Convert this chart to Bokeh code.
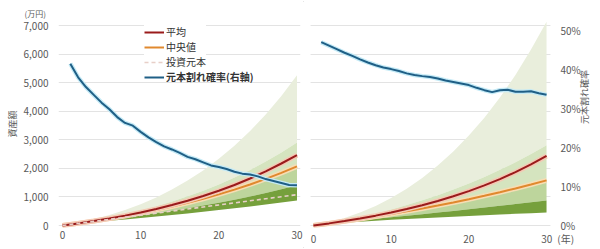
import math

from bokeh.plotting import figure
from bokeh.layouts import row
from bokeh.models import (Range1d, LinearAxis, FixedTicker, NumeralTickFormatter,
                          PrintfTickFormatter, Grid, Legend, LegendItem)
from bokeh.embed import file_html
from bokeh.resources import INLINE

# ---------------- data ----------------
# asset simulation (万円), every two years
years = [0, 2, 4, 6, 8, 10, 12, 14, 16, 18, 20, 22, 24, 26, 28, 30]

left_p5 = [0, 59, 112, 163, 214, 265, 317, 370, 424, 481, 540, 601, 665, 732, 802, 876]
left_p25 = [0, 67, 133, 202, 274, 349, 428, 512, 601, 696, 796, 904, 1018, 1140, 1271, 1411]
left_median = [0, 74, 153, 240, 334, 435, 546, 665, 795, 936, 1089, 1255, 1435, 1630, 1841, 2070]
left_p75 = [0, 80, 174, 279, 398, 530, 677, 839, 1020, 1219, 1438, 1679, 1945, 2237, 2557, 2909]
left_p95 = [0, 94, 215, 364, 540, 746, 984, 1258, 1572, 1929, 2333, 2789, 3304, 3883, 4535, 5261]
left_mean = [0, 74, 156, 246, 346, 457, 580, 715, 866, 1032, 1216, 1419, 1645, 1894, 2170, 2460]
left_principal = [0, 72, 144, 216, 288, 360, 432, 504, 576, 648, 720, 792, 864, 936, 1008, 1080]

right_p5 = [0, 53, 95, 132, 166, 197, 226, 255, 282, 308, 334, 359, 383, 408, 432, 456]
right_p25 = [0, 63, 121, 177, 232, 287, 343, 398, 454, 511, 569, 628, 689, 750, 813, 878]
right_median = [0, 73, 150, 230, 315, 403, 497, 595, 698, 806, 920, 1039, 1165, 1296, 1435, 1580]
right_p75 = [0, 85, 184, 298, 423, 562, 715, 881, 1062, 1258, 1471, 1700, 1948, 2214, 2501, 2809]
right_p95 = [0, 108, 259, 451, 685, 962, 1288, 1664, 2096, 2588, 3147, 3774, 4480, 5268, 6156, 7127]
right_mean = [0, 74, 155, 245, 345, 455, 576, 711, 859, 1022, 1203, 1403, 1623, 1867, 2136, 2433]

# probability of ending below principal (%), yearly
prob_years = list(range(1, 31))
left_loss_prob = [41.5, 38.0, 35.5, 33.5, 31.5, 29.8, 27.8, 26.3, 25.6, 24.0,
                  22.6, 21.4, 20.3, 19.5, 18.6, 17.6, 17.0, 16.2, 15.4, 15.0,
                  14.5, 13.8, 13.3, 13.1, 12.6, 11.9, 11.4, 10.9, 10.4, 10.3]
right_loss_prob = [47.0, 46.1, 45.2, 44.3, 43.5, 42.6, 41.8, 41.1, 40.5, 40.1,
                   39.6, 39.0, 38.6, 38.3, 38.1, 37.7, 37.2, 36.8, 36.4, 36.0,
                   35.3, 34.7, 34.2, 34.7, 34.8, 34.3, 34.3, 34.4, 33.9, 33.5]

x_ticks = [0, 10, 20, 30]
asset_ticks = [0, 1000, 2000, 3000, 4000, 5000, 6000, 7000]
prob_ticks = [0, 10, 20, 30, 40, 50]

# ---------------- style ----------------
FONT = "Noto Sans CJK JP"
TXT = "#595959"
C_OUTER = "#e9eedc"
C_UPPER = "#d5e4bf"
C_LOWER = "#bdd59c"
C_DARK = "#76a03c"
C_MEAN = "#9a1b1b"
C_MEAN_HALO = "#f4c9b4"
C_MED = "#e0892e"
C_MED_HALO = "#f7ddb4"
C_PRIN = "#e8cfc8"
C_PROB = "#1f5f86"
C_PROB_HALO = "#c4eaf6"
GRID = "#e3e3e3"

Y_RANGE = (-70, 7175)
PCT_RANGE = (-0.51, 52.56)


def style_axis(ax):
    ax.axis_line_color = None
    ax.major_tick_line_color = None
    ax.minor_tick_line_color = None
    ax.major_tick_out = 0
    ax.major_tick_in = 0
    ax.minor_tick_out = 0
    ax.minor_tick_in = 0
    ax.major_label_text_font = FONT
    ax.major_label_text_font_size = "10px"
    ax.major_label_text_color = TXT
    ax.axis_label_text_font = FONT
    ax.axis_label_text_font_size = "9px"
    ax.axis_label_text_font_style = "normal"
    ax.axis_label_text_color = TXT


def base_figure(width, x_range, border_left, border_right, y_axis_location):
    p = figure(width=width, height=249, x_range=Range1d(*x_range),
               y_range=Range1d(*Y_RANGE), output_backend="svg",
               toolbar_location=None, y_axis_location=y_axis_location,
               min_border_left=border_left, min_border_right=border_right,
               min_border_top=20, min_border_bottom=22)
    p.outline_line_color = None
    p.background_fill_color = "white"
    p.border_fill_color = "white"
    p.extra_y_ranges = {"pct": Range1d(*PCT_RANGE)}
    p.xaxis.ticker = FixedTicker(ticks=x_ticks)
    p.xaxis.major_label_standoff = 3
    style_axis(p.xaxis[0])
    p.xgrid.visible = False
    return p


def draw_fan(p, p5, p25, med, p75, p95, mean):
    p.varea(x=years, y1=p75, y2=p95, fill_color=C_OUTER)
    p.varea(x=years, y1=med, y2=p75, fill_color=C_UPPER)
    p.varea(x=years, y1=p25, y2=med, fill_color=C_LOWER)
    p.varea(x=years, y1=p5, y2=p25, fill_color=C_DARK)
    p.line(years, med, line_color=C_MED_HALO, line_width=5)
    r_med = p.line(years, med, line_color=C_MED, line_width=2)
    p.line(years, mean, line_color=C_MEAN_HALO, line_width=5)
    r_mean = p.line(years, mean, line_color=C_MEAN, line_width=2)
    return r_mean, r_med


def draw_prob(p, values):
    p.line(prob_years, values, line_color=C_PROB_HALO, line_width=4.5, y_range_name="pct")
    return p.line(prob_years, values, line_color=C_PROB, line_width=2, y_range_name="pct")


# ---------------- left panel ----------------
left = base_figure(303, (-0.51, 30.45), 58, 3, "left")
left.yaxis.ticker = FixedTicker(ticks=asset_ticks)
left.yaxis.formatter = NumeralTickFormatter(format="0,0")
left.yaxis.major_label_standoff = 10
left.yaxis.axis_label = "資産額"
left.yaxis.axis_label_standoff = 2
style_axis(left.yaxis[0])
left.ygrid.grid_line_color = GRID

left.title.text = "(万円)"
left.title.align = "left"
left.title.offset = -34
left.title.standoff = 3
left.title.text_font = FONT
left.title.text_font_size = "8px"
left.title.text_font_style = "normal"
left.title.text_color = TXT

r_mean, r_med = draw_fan(left, left_p5, left_p25, left_median, left_p75, left_p95, left_mean)
r_prin = left.line(years, left_principal, line_color=C_PRIN, line_width=1.6, line_dash="4 3")
r_prob = draw_prob(left, left_loss_prob)

legend_common = dict(margin=0, padding=0, spacing=0, glyph_width=20, glyph_height=14,
                     label_height=14, label_standoff=2, label_text_font=FONT,
                     label_text_font_size="10px", label_text_color="#333333",
                     border_line_color=None)
legend_b = Legend(items=[LegendItem(label="元本割れ確率(右軸)", renderers=[r_prob])],
                  location=(86, 143), label_text_font_style="bold",
                  background_fill_alpha=0.0, **legend_common)
legend_a = Legend(items=[LegendItem(label="平均", renderers=[r_mean]),
                         LegendItem(label="中央値", renderers=[r_med]),
                         LegendItem(label="投資元本", renderers=[r_prin])],
                  location=(86, 158), background_fill_color="white",
                  background_fill_alpha=1.0, **legend_common)
left.add_layout(legend_b)
left.add_layout(legend_a)

# ---------------- right panel ----------------
right = base_figure(297, (-0.38, 30.51), 7, 48, None)
right.add_layout(Grid(dimension=1, ticker=FixedTicker(ticks=asset_ticks),
                      grid_line_color=GRID))
# year unit written after the last tick
right.xaxis.major_label_overrides = {30: "\u2007\u2007\u2007\u200730\u2002(年)"}
pct_axis = LinearAxis(y_range_name="pct", ticker=FixedTicker(ticks=prob_ticks),
                      formatter=PrintfTickFormatter(format="%d%%"),
                      axis_label="元本割れ確率", major_label_standoff=10,
                      axis_label_standoff=1)
style_axis(pct_axis)
if "axis_label_orientation" in pct_axis.properties():
    pct_axis.axis_label_orientation = math.pi / 2
right.add_layout(pct_axis, "right")

draw_fan(right, right_p5, right_p25, right_median, right_p75, right_p95, right_mean)
draw_prob(right, right_loss_prob)

# thin frame around the whole graphic
layout = row(left, right, styles={"outline": "1px solid #dcdcdc", "outline-offset": "-2px"})
open("out.html", "w").write(file_html(layout, INLINE))
